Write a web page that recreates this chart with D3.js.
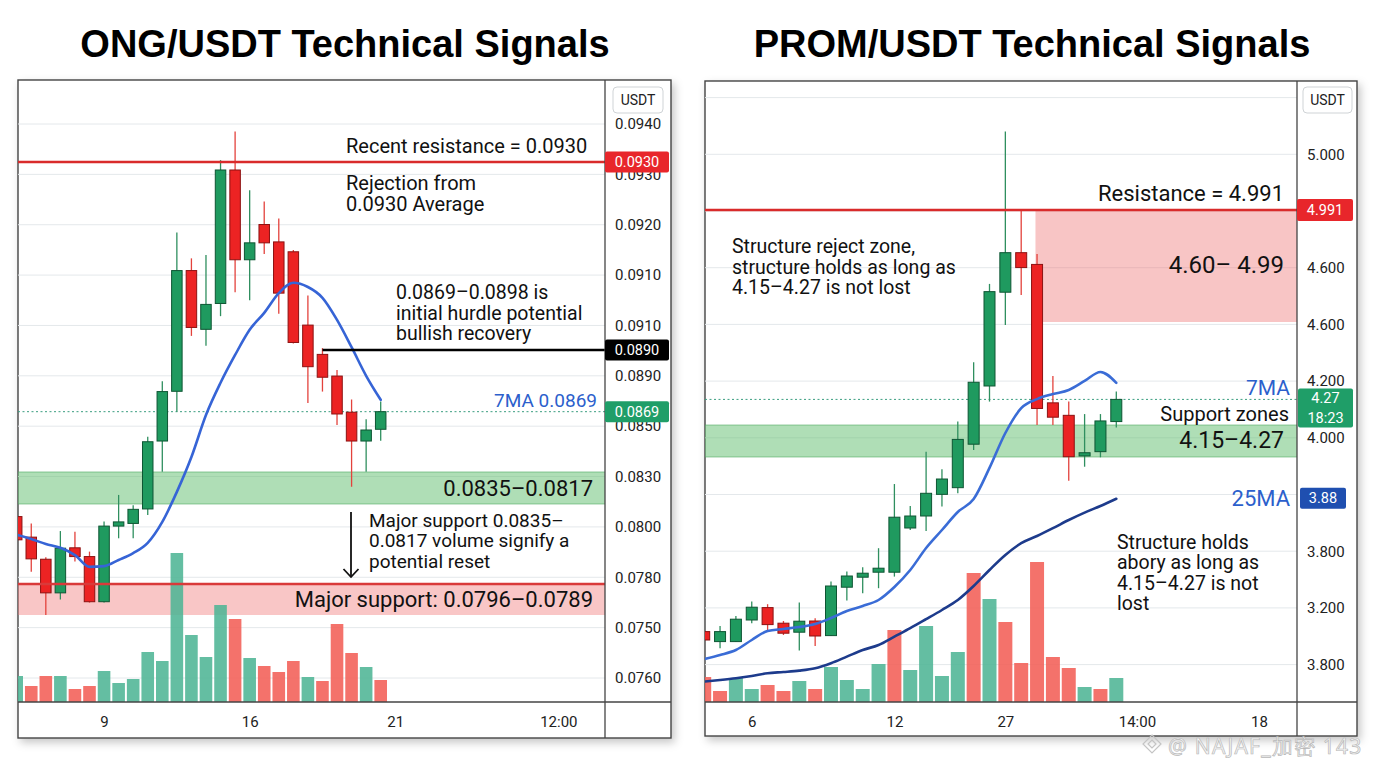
<!DOCTYPE html>
<html>
<head>
<meta charset="utf-8">
<script src="https://cdn.jsdelivr.net/npm/d3@7"></script>
<style>
  body { margin: 0; background: #fff; }
  svg { display: block; font-family: Roboto, "Noto Sans", sans-serif; }
</style>
</head>
<body>
<svg id="chart" width="1376" height="768"></svg>
<script>
// ---------- ONG/USDT (left) ----------
const ongOpen  = [0.08137,0.08083,0.08025,0.07940,0.08055,0.08032,0.07920,0.08112,0.08119,0.08157,0.08524,0.08759,0.09069,0.08944,0.08999,0.09283,0.09092,0.09167,0.09130,0.09109,0.08953,0.08885,0.08811,0.08686,0.08524,0.08590];
const ongHigh  = [0.08149,0.08119,0.08030,0.08099,0.08097,0.08045,0.08124,0.08221,0.08167,0.08548,0.08793,0.09150,0.09095,0.09102,0.09304,0.09365,0.09240,0.09216,0.09180,0.09113,0.09016,0.08904,0.08832,0.08731,0.08646,0.08724];
const ongLow   = [0.08062,0.07992,0.07890,0.07925,0.08019,0.07918,0.07918,0.08080,0.08080,0.08141,0.08352,0.08689,0.08930,0.08909,0.08972,0.09023,0.09006,0.09104,0.08977,0.08914,0.08719,0.08758,0.08614,0.08267,0.08352,0.08526];
const ongClose = [0.08076,0.08026,0.07940,0.08054,0.08032,0.07920,0.08112,0.08123,0.08156,0.08520,0.08758,0.09069,0.08948,0.08997,0.09283,0.09092,0.09128,0.09128,0.09021,0.08916,0.08843,0.08807,0.08676,0.08524,0.08586,0.08689];
const ongMA7   = [0.08089,0.08078,0.08065,0.08055,0.08036,0.08005,0.08007,0.08023,0.08041,0.08068,0.08123,0.08238,0.08434,0.08670,0.08788,0.08883,0.08943,0.08979,0.09021,0.09043,0.09034,0.09011,0.08964,0.08906,0.08812,0.08730];
const ongVolume   = [26,16,26,26,13,16,31,19,23,50,41,149,67,45,97,83,44,36,30,41,25,21,78,49,35,22];
const ongVolumeUp = [1,0,0,1,0,0,1,1,1,1,1,1,1,1,1,0,1,0,0,0,1,0,0,0,1,0];
const ongTickLabels = ['0.0940','0.0930','0.0920','0.0910','0.0910','0.0890','0.0850','0.0830','0.0800','0.0780','0.0750','0.0760'];
const ongDayTicks  = [6, 16, 26, 37.2];
const ongDayLabels = ['9', '16', '21', '12:00'];
const ongResistance = 0.0930;
const ongHurdle = 0.0890;
const ongHurdleStart = 21;
const ongSupport = [0.0835, 0.0817];
const ongMajorSupport = [0.0796, 0.0789];

// ---------- PROM/USDT (right) ----------
const promOpen  = [3.212,3.162,3.162,3.270,3.332,3.254,3.209,3.265,3.192,3.434,3.484,3.509,3.509,3.730,3.790,3.904,3.948,4.198,4.395,4.704,4.842,4.801,4.341,4.301,4.154,4.170,4.281];
const promHigh  = [3.230,3.240,3.290,3.362,3.349,3.265,3.357,3.279,3.462,3.512,3.534,3.629,3.972,3.840,4.170,4.069,4.281,4.471,4.733,5.265,4.991,4.837,4.427,4.345,4.305,4.305,4.377];
const promLow   = [3.155,3.129,3.160,3.254,3.220,3.195,3.117,3.140,3.190,3.367,3.404,3.429,3.487,3.720,3.715,3.837,3.911,4.176,4.345,4.590,4.694,4.270,4.270,3.994,4.086,4.148,4.261];
const promClose = [3.170,3.212,3.274,3.334,3.247,3.204,3.264,3.190,3.440,3.490,3.504,3.529,3.784,3.790,3.911,4.005,4.216,4.407,4.706,4.842,4.790,4.323,4.295,4.151,4.166,4.283,4.352];
const promMA7   = [3.075,3.095,3.120,3.170,3.215,3.225,3.235,3.250,3.280,3.315,3.340,3.370,3.435,3.520,3.630,3.720,3.810,3.875,4.078,4.240,4.324,4.353,4.369,4.382,4.411,4.440,4.405];
const promMA25  = [2.962,2.970,2.979,2.990,3.004,3.010,3.017,3.029,3.054,3.087,3.120,3.145,3.187,3.229,3.274,3.320,3.370,3.440,3.520,3.595,3.654,3.690,3.729,3.770,3.807,3.840,3.876];
const promVolume   = [25,11,24,13,17,11,21,13,35,22,13,38,72,32,76,26,50,129,103,80,39,140,45,34,15,13,24];
const promVolumeUp = [0,0,1,1,0,0,1,0,1,1,1,1,0,1,1,1,1,0,1,0,0,0,0,0,1,0,1];
const promTickLabels = ['5.000','','4.600','4.600','4.200','4.000','','3.800','3.200','3.800'];
const promDayTicks  = [3, 12, 19, 27.3, 35];
const promDayLabels = ['6', '12', '27', '14:00', '18'];
const promResistance = 4.991;
const promReject = [4.60, 4.991];
const promRejectStart = 20.9;
const promSupport = [4.15, 4.27];
const promLastTag = ['4.27', '18:23'];

const GREEN = '#1f9a5f', GREEN_EDGE = '#0e5533';
const RED = '#ec2323', RED_EDGE = '#8c1212';
const BLUE_TXT = '#2c5fcc';

const svg = d3.select('#chart');
const defs = svg.append('defs');
const shadow = defs.append('filter').attr('id', 'shadow')
  .attr('x', '-5%').attr('y', '-5%').attr('width', '112%').attr('height', '112%');
shadow.append('feDropShadow').attr('dx', 3).attr('dy', 4).attr('stdDeviation', 4)
  .attr('flood-color', '#000').attr('flood-opacity', 0.22);

function frame(p) {
  const g = svg.append('g');
  g.append('rect')
    .attr('x', p.x0).attr('y', p.y0)
    .attr('width', p.x2 - p.x0).attr('height', p.y2 - p.y0)
    .attr('fill', '#fff').attr('stroke', '#444').attr('stroke-width', 1.4)
    .attr('filter', 'url(#shadow)');
  defs.append('clipPath').attr('id', p.id + '-clip')
    .append('rect').attr('x', p.x0).attr('y', p.y0)
    .attr('width', p.x1 - p.x0).attr('height', p.y1 - p.y0);
  const plot = g.append('g').attr('clip-path', `url(#${p.id}-clip)`);
  plot.append('g').selectAll('line').data(p.gridSlots).join('line')
    .attr('x1', p.x0).attr('x2', p.x1)
    .attr('y1', d => p.tickY(d)).attr('y2', d => p.tickY(d))
    .attr('stroke', '#e4e8eb').attr('stroke-width', 1);
  return { g, plot };
}

function dividers(g, p) {
  g.append('line').attr('x1', p.x1).attr('x2', p.x1).attr('y1', p.y0).attr('y2', p.y2)
    .attr('stroke', '#444').attr('stroke-width', 1.3);
  g.append('line').attr('x1', p.x0).attr('x2', p.x2).attr('y1', p.y1).attr('y2', p.y1)
    .attr('stroke', '#444').attr('stroke-width', 1.3);
}

function band(layer, x0, x1, y, range, fill, edge) {
  const top = y(d3.max(range)), bot = y(d3.min(range));
  layer.append('rect').attr('x', x0).attr('width', x1 - x0)
    .attr('y', top).attr('height', bot - top).attr('fill', fill);
  if (edge) {
    layer.selectAll(null).data([top, bot]).join('line')
      .attr('x1', x0).attr('x2', x1).attr('y1', d => d).attr('y2', d => d)
      .attr('stroke', edge).attr('stroke-width', 1);
  }
}

function volume(layer, x, yv, vol, up, w) {
  layer.append('g').selectAll('rect').data(vol).join('rect')
    .attr('x', (d, i) => x(i) - w / 2).attr('width', w)
    .attr('y', d => yv(d)).attr('height', d => yv(0) - yv(d))
    .attr('fill', (d, i) => up[i] ? '#4fb595' : '#f25f57')
    .attr('opacity', 0.88);
}

function candles(layer, x, y, o, h, l, c, w) {
  const idx = d3.range(o.length);
  const up = i => c[i] >= o[i];
  layer.append('g').selectAll('line').data(idx).join('line')
    .attr('x1', i => x(i)).attr('x2', i => x(i))
    .attr('y1', i => y(h[i])).attr('y2', i => y(l[i]))
    .attr('stroke', i => up(i) ? '#2f8f5f' : '#e3423c').attr('stroke-width', 1.3);
  layer.append('g').selectAll('rect').data(idx).join('rect')
    .attr('x', i => x(i) - w / 2).attr('width', w)
    .attr('y', i => y(Math.max(o[i], c[i])))
    .attr('height', i => Math.max(1.5, Math.abs(y(o[i]) - y(c[i]))))
    .attr('fill', i => up(i) ? GREEN : RED)
    .attr('stroke', i => up(i) ? GREEN_EDGE : RED_EDGE).attr('stroke-width', 1);
}

function maLine(layer, x, y, values, color, width) {
  layer.append('path').datum(values)
    .attr('fill', 'none').attr('stroke', color).attr('stroke-width', width)
    .attr('stroke-linejoin', 'round').attr('stroke-linecap', 'round')
    .attr('d', d3.line().x((d, i) => x(i)).y(d => y(d)).curve(d3.curveMonotoneX));
}

function text(layer, x, y, lines, size, opts = {}) {
  const t = layer.append('text')
    .attr('x', x).attr('y', y)
    .attr('font-size', size)
    .attr('fill', opts.color || '#111')
    .attr('text-anchor', opts.anchor || 'start')
    .attr('font-weight', opts.weight || 400);
  lines.forEach((s, i) => {
    t.append('tspan').attr('x', x).attr('y', y + i * (opts.lh || size * 1.05)).text(s);
  });
  return t;
}

function tag(layer, x0, x1, top, h, fill, lines) {
  layer.append('rect').attr('x', x0).attr('y', top).attr('width', x1 - x0).attr('height', h)
    .attr('rx', 2).attr('fill', fill);
  const step = h / lines.length;
  lines.forEach((s, i) => {
    layer.append('text').attr('x', (x0 + x1) / 2).attr('y', top + step * (i + 0.5))
      .attr('dy', '0.35em').attr('text-anchor', 'middle')
      .attr('font-size', 14.5).attr('fill', '#fff').text(s);
  });
}

function unitBox(layer, x0, x1) {
  layer.append('rect').attr('x', x0).attr('y', 87).attr('width', x1 - x0).attr('height', 26)
    .attr('rx', 4).attr('fill', '#fff').attr('stroke', '#cfd3d6');
  layer.append('text').attr('x', (x0 + x1) / 2).attr('y', 100).attr('dy', '0.35em')
    .attr('text-anchor', 'middle').attr('font-size', 14).attr('fill', '#222').text('USDT');
}

function axes(g, p, x, tickLabels, dayTicks, dayLabels, labelX) {
  const slots = d3.range(tickLabels.length);
  g.append('g').attr('transform', `translate(${labelX},0)`)
    .call(d3.axisRight(p.tickY).tickValues(slots).tickFormat(i => tickLabels[i]).tickSize(0).tickPadding(0))
    .call(a => a.select('.domain').remove())
    .call(a => a.selectAll('text').attr('font-size', 15).attr('fill', '#222')
      .attr('font-family', 'Roboto, sans-serif'));
  g.append('g').attr('transform', `translate(0,${p.y1 + 14})`)
    .call(d3.axisBottom(x).tickValues(dayTicks).tickFormat((d, i) => dayLabels[i]).tickSize(0).tickPadding(0))
    .call(a => a.select('.domain').remove())
    .call(a => a.selectAll('text').attr('font-size', 15).attr('fill', '#222')
      .attr('font-family', 'Roboto, sans-serif'));
}

// ---------- titles ----------
svg.append('text').attr('x', 345).attr('y', 57).attr('text-anchor', 'middle')
  .attr('font-family', '"Liberation Sans", Arial, sans-serif').attr('font-weight', 700)
  .attr('font-size', 38).attr('fill', '#000').text('ONG/USDT Technical Signals');
svg.append('text').attr('x', 1032).attr('y', 57).attr('text-anchor', 'middle')
  .attr('font-family', '"Liberation Sans", Arial, sans-serif').attr('font-weight', 700)
  .attr('font-size', 38).attr('fill', '#000').text('PROM/USDT Technical Signals');

// ---------- left panel ----------
{
  const p = { id: 'ong', x0: 18, y0: 80, x1: 605, y1: 702, x2: 671, y2: 738 };
  p.tickY = d3.scaleLinear().domain([0, 11]).range([124, 678]);
  p.gridSlots = d3.range(12);
  const x = d3.scaleLinear().domain([0, 40]).range([16.7, 16.7 + 40 * 14.56]);
  const y = d3.scaleLinear()
    .domain([0.0950, 0.0930, 0.0890, 0.0869, 0.0817, 0.0796, 0.0789, 0.0770])
    .range([68, 162, 350, 411.5, 504, 584, 615, 699]);
  const yv = d3.scaleLinear().domain([0, 150]).range([p.y1, p.y1 - 150]);
  const { g, plot } = frame(p);
  const last = ongClose[ongClose.length - 1];
  const fmt = d3.format('.4f');

  band(plot, p.x0, p.x1, y, ongSupport, 'rgba(96,190,110,0.5)', 'rgba(70,165,90,0.55)');
  band(plot, p.x0, p.x1, y, ongMajorSupport, 'rgba(240,120,120,0.42)', null);
  volume(plot, x, yv, ongVolume, ongVolumeUp, 12.6);
  plot.append('line').attr('x1', p.x0).attr('x2', p.x1).attr('y1', y(last)).attr('y2', y(last))
    .attr('stroke', '#3a9e80').attr('stroke-width', 1).attr('stroke-dasharray', '2,2.5');
  candles(plot, x, y, ongOpen, ongHigh, ongLow, ongClose, 10.5);
  maLine(plot, x, y, ongMA7, '#3664d6', 2.6);
  plot.append('line').attr('x1', p.x0).attr('x2', p.x1)
    .attr('y1', y(ongMajorSupport[0])).attr('y2', y(ongMajorSupport[0]))
    .attr('stroke', '#d93a3a').attr('stroke-width', 2.5);
  plot.append('line').attr('x1', p.x0).attr('x2', p.x1)
    .attr('y1', y(ongResistance)).attr('y2', y(ongResistance))
    .attr('stroke', '#d92b2b').attr('stroke-width', 2.5);
  plot.append('line').attr('x1', x(ongHurdleStart)).attr('x2', p.x1)
    .attr('y1', y(ongHurdle)).attr('y2', y(ongHurdle))
    .attr('stroke', '#000').attr('stroke-width', 2.5);

  // annotations
  text(plot, 346, 153, ['Recent resistance = 0.0930'], 20);
  text(plot, 346, 190, ['Rejection from', '0.0930 Average'], 20, { lh: 21 });
  text(plot, 396, 299, ['0.0869–0.0898 is', 'initial hurdle potential', 'bullish recovery'], 19.5, { lh: 20.5 });
  text(plot, 597, 407, ['7MA ' + fmt(last)], 19, { anchor: 'end', color: BLUE_TXT });
  text(plot, 593, 496, ['0.0835–0.0817'], 22, { anchor: 'end' });
  plot.append('line').attr('x1', 351).attr('x2', 351).attr('y1', 512).attr('y2', 577)
    .attr('stroke', '#111').attr('stroke-width', 1.8);
  plot.append('path').attr('d', 'M343.5,569 L351,577 L358.5,569')
    .attr('fill', 'none').attr('stroke', '#111').attr('stroke-width', 1.8);
  text(plot, 369, 527, ['Major support 0.0835–', '0.0817 volume signify a', 'potential reset'], 19, { lh: 20.3 });
  text(plot, 593, 607, ['Major support: 0.0796–0.0789'], 22, { anchor: 'end' });

  dividers(g, p);
  axes(g, p, x, ongTickLabels, ongDayTicks, ongDayLabels, 615);
  unitBox(g, 613, 663);
  tag(g, 605, 669, y(ongResistance) - 10.5, 21, '#e8262b', [fmt(ongResistance)]);
  tag(g, 605, 669, y(ongHurdle) - 10.5, 21, '#000', [fmt(ongHurdle)]);
  tag(g, 605, 669, y(last) - 10.5, 21, '#1f9e68', [fmt(last)]);
}

// ---------- right panel ----------
{
  const p = { id: 'prom', x0: 705, y0: 81, x1: 1297, y1: 702, x2: 1357, y2: 736 };
  p.tickY = d3.scaleLinear().domain([0, 9]).range([154.3, 664.6]);
  p.gridSlots = d3.range(-1, 10);
  const x = d3.scaleLinear().domain([0, 36]).range([704.2, 704.2 + 36 * 15.85]);
  const y = d3.scaleLinear()
    .domain([5.30, 4.991, 4.60, 4.27, 4.15, 3.88, 2.80])
    .range([121.6, 210, 322, 425, 457, 498, 714]);
  const yv = d3.scaleLinear().domain([0, 150]).range([p.y1, p.y1 - 150]);
  const { g, plot } = frame(p);
  const last = promClose[promClose.length - 1];
  const ma25Last = promMA25[promMA25.length - 1];

  band(plot, x(promRejectStart), p.x1, y, promReject, 'rgba(238,110,110,0.4)', null);
  band(plot, p.x0, p.x1, y, promSupport, 'rgba(96,190,110,0.5)', 'rgba(70,165,90,0.55)');
  volume(plot, x, yv, promVolume, promVolumeUp, 14);
  plot.append('line').attr('x1', p.x0).attr('x2', p.x1).attr('y1', y(last)).attr('y2', y(last))
    .attr('stroke', '#3a9e80').attr('stroke-width', 1).attr('stroke-dasharray', '2,2.5');
  candles(plot, x, y, promOpen, promHigh, promLow, promClose, 11);
  maLine(plot, x, y, promMA25, '#1d3b8c', 2.6);
  maLine(plot, x, y, promMA7, '#3a6cd6', 2.6);
  plot.append('line').attr('x1', p.x0).attr('x2', p.x1)
    .attr('y1', y(promResistance)).attr('y2', y(promResistance))
    .attr('stroke', '#d92b2b').attr('stroke-width', 2.5);

  text(plot, 1284, 201, ['Resistance = ' + d3.format('.3f')(promResistance)], 22, { anchor: 'end' });
  text(plot, 1284, 273, ['4.60– 4.99'], 24, { anchor: 'end' });
  text(plot, 732, 253, ['Structure reject zone,', 'structure holds as long as', '4.15–4.27 is not lost'], 19.5, { lh: 20.5 });
  text(plot, 1290, 395, ['7MA'], 21, { anchor: 'end', color: BLUE_TXT });
  text(plot, 1289, 421, ['Support zones'], 20, { anchor: 'end' });
  text(plot, 1284, 448, ['4.15–4.27'], 23, { anchor: 'end' });
  text(plot, 1290, 506, ['25MA'], 22, { anchor: 'end', color: BLUE_TXT });
  text(plot, 1117, 549, ['Structure holds', 'abory as long as', '4.15–4.27 is not', 'lost'], 19.5, { lh: 20.4 });

  dividers(g, p);
  axes(g, p, x, promTickLabels, promDayTicks, promDayLabels, 1307);
  unitBox(g, 1303, 1352);
  tag(g, 1297, 1353, y(promResistance) - 11, 22, '#e8262b', [d3.format('.3f')(promResistance)]);
  tag(g, 1298, 1353, y(last) - 11, 39, '#1f9e68', promLastTag);
  tag(g, 1300, 1346, y(ma25Last) - 11, 21, '#1f4fb0', [d3.format('.2f')(ma25Last)]);
}

// ---------- watermark ----------
svg.append('path').attr('d', 'M1152,735 L1161,744 L1152,753 L1143,744 Z M1152,740 L1156,744 L1152,748 L1148,744 Z')
  .attr('fill', 'none').attr('stroke', '#c4c4c4').attr('stroke-width', 1.2);
svg.append('text').attr('x', 1168).attr('y', 754).attr('font-size', 21)
  .attr('letter-spacing', 1.2)
  .attr('fill', '#f4f4f4').attr('stroke', '#b8b8b8').attr('stroke-width', 0.7)
  .attr('font-family', '"Noto Sans", sans-serif')
  .text('@ NAJAF_加密 143');
</script>
</body>
</html>
